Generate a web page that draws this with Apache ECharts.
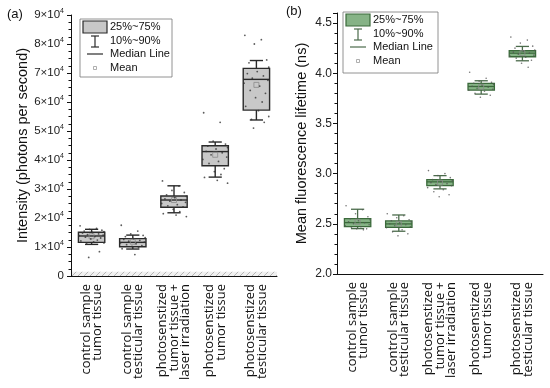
<!DOCTYPE html>
<html><head><meta charset="utf-8">
<script src="https://cdn.jsdelivr.net/npm/echarts@6/dist/echarts.min.js"></script>
<style>html,body{margin:0;padding:0;background:#fff}#c{width:550px;height:388px}</style>
</head><body><div id="c"></div>
<script>
const categories = ['control sample\ntumor tissue','control sample\ntesticular tissue','photosenstized\ntumor tissue +\nlaser irradiation','photosenstized\ntumor tissue','photosenstized\ntesticular tissue'];
// box stats: [whiskerLow(10%), Q1, median, Q3, whiskerHigh(90%), mean]
const intensityStats = [
  [10900, 11600, 13800, 15100, 16100, 13700],
  [9300, 10100, 11600, 12900, 14100, 11800],
  [21800, 23700, 26200, 27600, 31100, 26200],
  [34100, 38000, 42900, 44900, 46200, 41800],
  [53800, 57200, 67800, 71600, 74300, 65900]
];
const lifetimeStats = [
  [2.452, 2.472, 2.512, 2.552, 2.645, 2.52],
  [2.426, 2.465, 2.499, 2.529, 2.588, 2.50],
  [2.848, 2.880, 2.918, 2.940, 2.980, 2.91],
  [3.792, 3.832, 3.868, 3.898, 3.925, 3.865],
  [4.124, 4.164, 4.200, 4.224, 4.267, 4.20]
];
// raw points per group
const intensityPoints = [
  [17300,16400,16100,15800,15500,15300,15000,14800,14500,14300,14100,13900,13600,13400,13100,12800,12400,12100,11800,11400,11100,8400,6400],
  [17500,15500,14500,14000,13600,13200,12900,12600,12300,12000,11700,11400,11100,10800,10500,10200,9800,9400,7400],
  [32800,31000,29500,28800,28000,27500,27000,26600,26200,25800,25400,25000,24600,24200,23800,23000,22200,21500,21000,20500],
  [56300,53000,46500,45500,44800,44300,43800,43000,42500,41800,41000,40200,39500,38800,37000,36000,35000,34000,33000,32000],
  [83000,81500,80000,74500,73500,72000,70500,69800,69000,68200,67500,66500,65500,64000,63000,61500,60000,58500,57000,55000,54000,53000,51000]
];
const lifetimePoints = [
  [2.68,2.64,2.60,2.57,2.55,2.54,2.53,2.52,2.51,2.50,2.49,2.48,2.47,2.46,2.45,2.45,2.44],
  [2.60,2.58,2.56,2.54,2.53,2.52,2.51,2.50,2.49,2.48,2.47,2.46,2.44,2.42,2.40,2.38],
  [3.03,3.00,2.98,2.96,2.94,2.93,2.92,2.91,2.90,2.89,2.88,2.86,2.84,2.82,2.79,2.77],
  [4.01,3.95,3.92,3.91,3.90,3.89,3.88,3.87,3.86,3.85,3.84,3.83,3.82,3.80,3.78,3.76],
  [4.36,4.33,4.30,4.27,4.25,4.23,4.22,4.21,4.20,4.19,4.18,4.17,4.16,4.15,4.13,4.10,4.06]
];
// horizontal jitter of raw points (category units)
const jitter = [-0.28,0.12,-0.05,0.25,-0.18,0.30,0.02,-0.22,0.17,-0.10,0.28,-0.30,0.08,-0.15,0.22,-0.02,0.14,-0.26,0.05,0.30,-0.12,0.19,-0.07];
const intensityTicks = [0,10000,20000,30000,40000,50000,60000,70000,80000,90000];
const lifetimeTicks = [2.0,2.5,3.0,3.5,4.0,4.5];
const hatchBand = [0, 1500];

const chart = echarts.init(document.getElementById('c'), null, {renderer:'canvas'});

function mkBoxes(stats){ return stats.map((s,i)=>[i].concat(s)); }
function mkPoints(groups){ const out=[]; groups.forEach((g,i)=>g.forEach((v,k)=>out.push([i+jitter[k%jitter.length], v]))); return out; }

function boxRender(fill, stroke, wcol, lw){
  return function(params, api){
    const x=api.value(0);
    const lo=api.coord([x,api.value(1)]), q1=api.coord([x,api.value(2)]), md=api.coord([x,api.value(3)]),
          q3=api.coord([x,api.value(4)]), hi=api.coord([x,api.value(5)]), mn=api.coord([x,api.value(6)]);
    const bw=api.size([0.64,0])[0], cw=bw*0.5;
    const cx=lo[0];
    const ls={stroke:wcol, lineWidth:lw, fill:null};
    return {type:'group', children:[
      {type:'line', shape:{x1:cx,y1:hi[1],x2:cx,y2:q3[1]}, style:ls},
      {type:'line', shape:{x1:cx,y1:q1[1],x2:cx,y2:lo[1]}, style:ls},
      {type:'line', shape:{x1:cx-cw/2,y1:hi[1],x2:cx+cw/2,y2:hi[1]}, style:ls},
      {type:'line', shape:{x1:cx-cw/2,y1:lo[1],x2:cx+cw/2,y2:lo[1]}, style:ls},
      {type:'rect', shape:{x:cx-bw/2,y:q3[1],width:bw,height:q1[1]-q3[1]}, style:{fill:fill, stroke:stroke, lineWidth:lw}},
      {type:'line', shape:{x1:cx-bw/2,y1:md[1],x2:cx+bw/2,y2:md[1]}, style:{stroke:stroke,lineWidth:lw}},
      {type:'rect', shape:{x:mn[0]-2.5,y:mn[1]-2.5,width:5,height:5}, style:{fill:null, stroke:'#8a8a8a', lineWidth:0.8}}
    ]};
  };
}

// hatch pattern
const pc=document.createElement('canvas'); pc.width=6; pc.height=6;
const pctx=pc.getContext('2d'); pctx.fillStyle='#f0f0f0'; pctx.fillRect(0,0,6,6);
pctx.strokeStyle='#b5b5b5'; pctx.lineWidth=1; pctx.beginPath(); pctx.moveTo(0,6); pctx.lineTo(6,0); pctx.moveTo(-1,1); pctx.lineTo(1,-1); pctx.moveTo(5,7); pctx.lineTo(7,5); pctx.stroke();

const supRich = {b:{fontSize:11.5,fontFamily:'Liberation Sans',color:'#222'}, s:{fontSize:7,fontFamily:'Liberation Sans',color:'#222',padding:[0,0,7,0]}};
const catLabel = {rotate:90, fontSize:13, fontFamily:'Open Sans', fontWeight:500, color:'#111', lineHeight:11.5, margin:8, interval:0};

const legendA = (x0,y0,w,h,fill,stroke,wcol)=>[
  {type:'rect', shape:{x:x0,y:y0,width:w,height:h}, style:{fill:'#fff',stroke:'#777',lineWidth:0.8}},
  {type:'rect', shape:{x:x0+3,y:y0+2,width:24,height:12}, style:{fill:fill,stroke:stroke,lineWidth:1.2}},
  {type:'text', x:x0+30, y:y0+8, style:{text:'25%~75%',fontSize:11,fontFamily:'Liberation Sans',fill:'#111',verticalAlign:'middle'}},
  {type:'line', shape:{x1:x0+15,y1:y0+17,x2:x0+15,y2:y0+28}, style:{stroke:wcol,lineWidth:1.2}},
  {type:'line', shape:{x1:x0+11,y1:y0+17,x2:x0+19,y2:y0+17}, style:{stroke:wcol,lineWidth:1.2}},
  {type:'line', shape:{x1:x0+11,y1:y0+28,x2:x0+19,y2:y0+28}, style:{stroke:wcol,lineWidth:1.2}},
  {type:'text', x:x0+30, y:y0+22, style:{text:'10%~90%',fontSize:11,fontFamily:'Liberation Sans',fill:'#111',verticalAlign:'middle'}},
  {type:'line', shape:{x1:x0+7,y1:y0+35,x2:x0+23,y2:y0+35}, style:{stroke:wcol,lineWidth:1.2}},
  {type:'text', x:x0+30, y:y0+35, style:{text:'Median Line',fontSize:11,fontFamily:'Liberation Sans',fill:'#111',verticalAlign:'middle'}},
  {type:'rect', shape:{x:x0+13.5,y:y0+47.5,width:3,height:3}, style:{fill:null,stroke:'#9a9a9a',lineWidth:0.8}},
  {type:'text', x:x0+30, y:y0+49, style:{text:'Mean',fontSize:11,fontFamily:'Liberation Sans',fill:'#111',verticalAlign:'middle'}}
];

const option = {
  animation:false,
  grid:[{left:71,right:273,top:15,bottom:112,outerBoundsMode:'none',containLabel:false},{left:337,right:7,top:13,bottom:114,outerBoundsMode:'none',containLabel:false}],
  xAxis:[
    {gridIndex:0,type:'category',data:categories,boundaryGap:true,axisLine:{onZero:false,lineStyle:{color:'#111',width:1}},axisTick:{alignWithLabel:true,length:4,lineStyle:{color:'#111'}},axisLabel:catLabel,splitLine:{show:false}},
    {gridIndex:1,type:'category',data:categories,boundaryGap:true,axisLine:{onZero:false,lineStyle:{color:'#111',width:1}},axisTick:{alignWithLabel:true,length:4,lineStyle:{color:'#111'}},axisLabel:catLabel,splitLine:{show:false}},
    {gridIndex:0,type:'value',min:-0.5,max:4.5,show:false},
    {gridIndex:1,type:'value',min:-0.5,max:4.5,show:false}
  ],
  yAxis:[
    {gridIndex:0,type:'value',min:intensityTicks[0],max:intensityTicks[intensityTicks.length-1],interval:10000,
     name:'Intensity (photons per second)',nameLocation:'middle',nameGap:37,nameTextStyle:{fontSize:14.5,fontFamily:'Liberation Sans',color:'#111'},
     axisLine:{show:true,onZero:false,lineStyle:{color:'#111'}},axisTick:{show:true,inside:false,length:4,lineStyle:{color:'#111'}},
     minorTick:{show:true,splitNumber:4,length:2.5,lineStyle:{color:'#111'}},splitLine:{show:false},
     axisLabel:{margin:7,formatter:v=>v===0?'{b|0}':'{b|'+(v/10000)+'×10}{s|4}',rich:supRich}},
    {gridIndex:1,type:'value',min:lifetimeTicks[0],max:4.6,interval:0.5,
     name:'Mean fluorescence lifetime (ns)',nameLocation:'middle',nameGap:28,nameTextStyle:{fontSize:14.5,fontFamily:'Liberation Sans',color:'#111'},
     axisLine:{show:true,onZero:false,lineStyle:{color:'#111'}},axisTick:{show:true,inside:false,length:4,lineStyle:{color:'#111'}},
     minorTick:{show:true,splitNumber:5,length:2.5,lineStyle:{color:'#111'}},splitLine:{show:false},
     axisLabel:{margin:5,fontSize:12,fontFamily:'Liberation Sans',color:'#222',showMaxLabel:false,formatter:v=>v.toFixed(1)}}
  ],
  series:[
    {type:'custom',xAxisIndex:2,yAxisIndex:0,silent:true,data:[[-0.5,hatchBand[0],4.5,hatchBand[1]]],
     renderItem:(p,api)=>{const a=api.coord([api.value(0),api.value(1)]),b=api.coord([api.value(2),api.value(3)]);
       return {type:'rect',shape:{x:a[0]+1,y:b[1],width:b[0]-a[0]-1,height:a[1]-b[1]},style:{fill:{image:pc,repeat:'repeat'}}};}},
    {type:'custom',xAxisIndex:2,yAxisIndex:0,data:mkBoxes(intensityStats),renderItem:boxRender('#c8c8c8','#2a2a2a','#2a2a2a',1.4),z:2},
    {type:'scatter',xAxisIndex:2,yAxisIndex:0,data:mkPoints(intensityPoints),symbol:'circle',symbolSize:1.8,itemStyle:{color:'#333'},z:3},
    {type:'custom',xAxisIndex:3,yAxisIndex:1,data:mkBoxes(lifetimeStats),renderItem:boxRender('#86b386','#3b6a3b','#4b6b4b',1.3),z:2},
    {type:'scatter',xAxisIndex:3,yAxisIndex:1,data:mkPoints(lifetimePoints),symbol:'circle',symbolSize:1.6,itemStyle:{color:'#555'},z:3}
  ],
  graphic:[
    {type:'text',left:7,top:8,style:{text:'(a)',fontSize:13,fontFamily:'Liberation Sans',fill:'#111'}},
    {type:'text',left:286,top:5,style:{text:'(b)',fontSize:13,fontFamily:'Liberation Sans',fill:'#111'}},
    {type:'group',children:legendA(80,19,92,58,'#c8c8c8','#2a2a2a','#2a2a2a')},
    {type:'group',children:legendA(343,12,95,61,'#86b386','#3b6a3b','#4b6b4b')}
  ]
};
chart.setOption(option);
</script></body></html>
